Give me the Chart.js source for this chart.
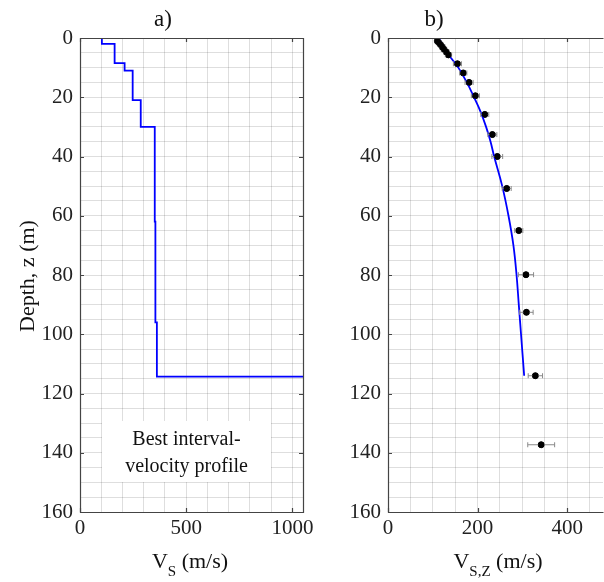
<!DOCTYPE html>
<html>
<head>
<meta charset="utf-8">
<script src="https://cdn.jsdelivr.net/npm/chart.js@4.4.1/dist/chart.umd.min.js"></script>
<style>
  html, body { margin: 0; padding: 0; background: #fff; width: 604px; height: 582px; overflow: hidden; }
  #wrap { position: relative; width: 604px; height: 582px; overflow: hidden; }
  canvas { position: absolute; top: 0; }
</style>
</head>
<body>
<div id="wrap">
  <canvas id="ca" width="330" height="582" style="left:0px"></canvas>
  <canvas id="cb" width="300" height="582" style="left:320px"></canvas>
</div>
<script>
// ---------- Panel a: best interval-velocity profile (step) ----------
const depthStepA = [0, 2, 2, 8.5, 8.5, 11, 11, 21, 21, 30, 30, 62, 62, 96, 96, 114.3, 114.3];
const vsStepA    = [103, 103, 163, 163, 210, 210, 248, 248, 286, 286, 352, 352, 355, 355, 362, 362, 1100];

// ---------- Panel b: measured V_S,Z points with error bars + fitted curve ----------
const depthPts = [1.0, 1.5, 2.2, 3.0, 3.8, 4.7, 5.7, 8.7, 11.8, 15.0, 19.5, 25.8, 32.6, 40.0, 50.8, 65.0, 79.9, 92.6, 114.0, 137.3];
const vszPts   = [110, 113, 117, 121, 125, 130, 135, 155, 168, 181, 195, 216, 233, 244, 265, 292, 308, 309, 329, 342];
const vszErr   = [5, 5, 5, 6, 6, 6, 7, 9, 8, 9, 9, 9, 10, 12, 10, 9, 17, 15, 16, 30];

const depthCurve = [0, 2, 5, 10, 15, 20, 25, 30, 35, 40, 50, 60, 70, 80, 90, 100, 114];
const vszCurve   = [113, 120, 132, 157, 176, 192, 207, 219, 229, 237, 255, 269, 280, 287, 292, 297, 304];

// ---------- Axis ticks ----------
const depthTicks = [0, 20, 40, 60, 80, 100, 120, 140, 160];
const vsTicksA = [0, 500, 1000];
const vsTicksB = [0, 200, 400];

const FONT = "'Liberation Serif', 'Times New Roman', serif";
const GRID = 'rgba(0,0,0,0.13)';
const FRAME = '#444';

function pairs(xs, ys) { return xs.map((x, i) => ({ x: x, y: ys[i] })); }

// frame + inward tick marks + custom texts
function framePlugin(opts) {
  return {
    id: 'frame',
    afterDraw(chart) {
      const { ctx, chartArea: a, scales } = chart;
      const x = scales.x, y = scales.y;
      ctx.save();
      ctx.strokeStyle = FRAME;
      ctx.lineWidth = 1.2;
      ctx.beginPath();
      ctx.moveTo(a.left + 0.5, a.top + 0.5);
      ctx.lineTo(a.left + 0.5, a.bottom + 0.5);
      ctx.lineTo(a.right + 0.5, a.bottom + 0.5);
      if (opts.rightBorder) ctx.lineTo(a.right + 0.5, a.top + 0.5);
      else ctx.moveTo(a.right + 0.5, a.top + 0.5);
      ctx.lineTo(a.left + 0.5, a.top + 0.5);
      ctx.stroke();
      const tl = 4;
      ctx.beginPath();
      opts.xTicks.forEach(v => {
        const px = Math.round(x.getPixelForValue(v)) + 0.5;
        ctx.moveTo(px, a.bottom); ctx.lineTo(px, a.bottom - tl);
        ctx.moveTo(px, a.top); ctx.lineTo(px, a.top + tl);
      });
      depthTicks.forEach(v => {
        const py = Math.round(y.getPixelForValue(v)) + 0.5;
        ctx.moveTo(a.left, py); ctx.lineTo(a.left + tl, py);
        if (opts.rightBorder) { ctx.moveTo(a.right, py); ctx.lineTo(a.right - tl, py); }
      });
      ctx.stroke();

      // title
      ctx.fillStyle = '#111';
      ctx.font = '23px ' + FONT;
      ctx.textAlign = 'center';
      ctx.textBaseline = 'alphabetic';
      ctx.fillText(opts.title, opts.titleX, 26);

      // x axis label with subscript
      const base = 568;
      ctx.font = '22px ' + FONT;
      const wV = ctx.measureText('V').width;
      ctx.font = '15px ' + FONT;
      const wS = ctx.measureText(opts.sub).width;
      ctx.font = '22px ' + FONT;
      const wR = ctx.measureText(' (m/s)').width;
      let sx = opts.xLabelX - (wV + wS + wR) / 2;
      ctx.textAlign = 'left';
      ctx.fillText('V', sx, base);
      ctx.font = '15px ' + FONT;
      ctx.fillText(opts.sub, sx + wV, base + 8);
      ctx.font = '22px ' + FONT;
      ctx.fillText(' (m/s)', sx + wV + wS, base);

      if (opts.yLabel) {
        ctx.save();
        ctx.translate(34, 276);
        ctx.rotate(-Math.PI / 2);
        ctx.textAlign = 'center';
        ctx.font = '22px ' + FONT;
        ctx.fillText(opts.yLabel, 0, 0);
        ctx.restore();
      }
      if (opts.box) {
        const b = opts.box;
        ctx.fillStyle = '#fff';
        ctx.fillRect(b.x, b.y, b.w, b.h);
        ctx.fillStyle = '#111';
        ctx.font = '20px ' + FONT;
        ctx.textAlign = 'center';
        ctx.fillText(b.lines[0], b.x + b.w / 2, b.y + 24);
        ctx.fillText(b.lines[1], b.x + b.w / 2, b.y + 51);
      }
      ctx.restore();
    }
  };
}

const errorBarPlugin = {
  id: 'errbars',
  afterDatasetsDraw(chart) {
    const { ctx, scales } = chart;
    const x = scales.x, y = scales.y;
    ctx.save();
    ctx.strokeStyle = '#8a8a8a';
    ctx.lineWidth = 1;
    depthPts.forEach((d, i) => {
      const py = y.getPixelForValue(d);
      const x0 = x.getPixelForValue(vszPts[i] - vszErr[i]);
      const x1 = x.getPixelForValue(vszPts[i] + vszErr[i]);
      ctx.beginPath();
      ctx.moveTo(x0, py); ctx.lineTo(x1, py);
      ctx.moveTo(x0, py - 2.5); ctx.lineTo(x0, py + 2.5);
      ctx.moveTo(x1, py - 2.5); ctx.lineTo(x1, py + 2.5);
      ctx.stroke();
    });
    ctx.fillStyle = '#000';
    depthPts.forEach((d, i) => {
      ctx.beginPath();
      ctx.arc(x.getPixelForValue(vszPts[i]), y.getPixelForValue(d), 3, 0, Math.PI * 2);
      ctx.fill();
    });
    ctx.restore();
  }
};

function yScale(width) {
  return {
    type: 'linear', reverse: true, min: 0, max: 160,
    afterFit(s) { s.width = width; },
    border: { display: false },
    grid: { color: GRID, borderDash: [1, 2], drawTicks: false, lineWidth: 1 },
    ticks: {
      stepSize: 5, autoSkip: false, padding: 7, color: '#222',
      font: { family: FONT, size: 21 },
      callback: v => (v % 20 === 0 ? String(v) : '')
    }
  };
}
function xScale(max, step, labelEvery) {
  return {
    type: 'linear', min: 0, max: max,
    afterFit(s) { s.height = 70; },
    border: { display: false },
    grid: { color: GRID, borderDash: [1, 2], drawTicks: false, lineWidth: 1 },
    ticks: {
      stepSize: step, includeBounds: false, autoSkip: false, maxRotation: 0, padding: 4, color: '#222',
      font: { family: FONT, size: 21 },
      callback: v => (v % labelEvery === 0 ? String(v) : '')
    }
  };
}

Chart.defaults.animation = false;

new Chart(document.getElementById('ca'), {
  type: 'scatter',
  data: {
    datasets: [{
      data: pairs(vsStepA, depthStepA),
      showLine: true, borderColor: '#0000ff', borderWidth: 1.8,
      pointRadius: 0, tension: 0
    }]
  },
  options: {
    responsive: false, animation: false,
    layout: { padding: { left: 0, top: 38, right: 27, bottom: 0 } },
    plugins: { legend: { display: false }, tooltip: { enabled: false } },
    scales: { x: xScale(1050, 100, 500), y: yScale(80) }
  },
  plugins: [framePlugin({
    xTicks: vsTicksA, rightBorder: true, title: 'a)', titleX: 163, sub: 'S', xLabelX: 190,
    yLabel: 'Depth, z (m)',
    box: { x: 102, y: 421, w: 169, h: 61, lines: ['Best interval-', 'velocity profile'] }
  })]
});

new Chart(document.getElementById('cb'), {
  type: 'scatter',
  data: {
    datasets: [{
      data: pairs(vszCurve, depthCurve),
      showLine: true, borderColor: '#0000ff', borderWidth: 1.8,
      pointRadius: 0, tension: 0.4
    }, {
      data: pairs(vszPts, depthPts),
      showLine: false, pointRadius: 3, backgroundColor: '#000', borderColor: '#000'
    }]
  },
  options: {
    responsive: false, animation: false,
    layout: { padding: { left: 0, top: 38, right: 17, bottom: 0 } },
    plugins: { legend: { display: false }, tooltip: { enabled: false } },
    scales: { x: xScale(480, 50, 200), y: yScale(68) }
  },
  plugins: [errorBarPlugin, framePlugin({
    xTicks: vsTicksB, rightBorder: false, title: 'b)', titleX: 114, sub: 'S,Z', xLabelX: 178
  })]
});
</script>
</body>
</html>
